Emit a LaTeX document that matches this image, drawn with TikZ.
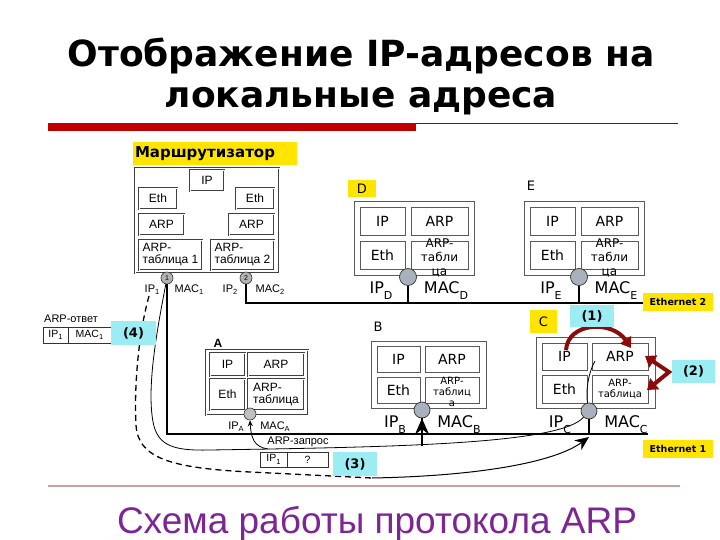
\documentclass[tikz,border=0pt]{standalone}
\usepackage{fontspec}
\setmainfont{DejaVu Sans}
\newfontfamily\scanfont{Liberation Sans}
\usetikzlibrary{arrows.meta}

\definecolor{tagyellow}{HTML}{FFE400}
\definecolor{tagcyan}{HTML}{9BEDF3}
\definecolor{arrowred}{HTML}{8C0A0A}
\definecolor{barred}{HTML}{C00000}
\definecolor{rulepink}{HTML}{C8A0A0}
\definecolor{portgray}{HTML}{A9B1BC}
\definecolor{footviolet}{HTML}{7E2594}

\newcommand{\hostsub}[1]{\raisebox{-6pt}{\fontsize{11}{11}\selectfont #1}}
\newcommand{\scansub}[1]{\raisebox{-2.5pt}{\fontsize{7.5}{7.5}\selectfont #1}}

\begin{document}
\begin{tikzpicture}[x=1pt,y=-1pt,
        cell/.style={draw=gray!70!black, line width=0.9pt, inner sep=0pt, font=\fontsize{14}{14}\selectfont},
        hostframe/.style={draw=gray!70!black, line width=0.9pt},
        scan/.style={draw=black!75, line width=0.4pt, double=white, double distance=0.8pt},
        scancell/.style={scan, inner sep=0pt, font=\scanfont\fontsize{12}{12}\selectfont},
        msgcell/.style={draw=black!80, line width=0.9pt, inner sep=0pt, font=\scanfont\fontsize{10.5}{10.5}\selectfont},
        port/.style={circle, draw=gray!40!black, fill=portgray, line width=0.7pt, inner sep=0pt, minimum size=17pt},
        rport/.style={circle, draw=black!80, fill=gray!60, line width=0.6pt, inner sep=0pt, minimum size=12pt, font=\scanfont\fontsize{7}{7}\selectfont},
        addr/.style={anchor=base, inner sep=0pt, font=\fontsize{16}{16}\selectfont},
        scanaddr/.style={anchor=base, inner sep=0pt, font=\scanfont\fontsize{11}{11}\selectfont},
        tag/.style={fill=tagyellow, inner sep=0pt},
        stepno/.style={fill=tagcyan, inner sep=0pt, font=\bfseries\fontsize{13}{13}\selectfont},
        bus/.style={line width=2.2pt},
        drop/.style={line width=2pt},
        msgline/.style={line width=0.8pt},
        redarrow/.style={draw=arrowred, line width=4pt, -{Triangle[length=10pt,width=13pt]}}]
        \useasboundingbox (0,0) rectangle (720,540);

        \node[anchor=base, inner sep=0pt, font=\bfseries\fontsize{36}{36}\selectfont] (title1) at (361,67) {Отображение IP-адресов на};
        \node[anchor=base, inner sep=0pt, font=\bfseries\fontsize{36}{36}\selectfont] (title2) at (361,108) {локальные адреса};
        \fill[barred] (48,123) rectangle (416,131);
        \draw[barred!80!black, line width=0.8pt] (416,123.5) -- (678,123.5);
        \draw[rulepink, line width=1.2pt] (48,486) -- (680,486);
        \node[anchor=base, inner sep=0pt, text=footviolet, font=\scanfont\fontsize{37}{37}\selectfont] (footer) at (377,533) {Схема работы протокола ARP};

        \coordinate (eth2end) at (643,303);
        \coordinate (eth1end) at (648,434);

        \node[tag, text width=160pt, minimum height=23pt, align=left, inner xsep=2pt, font=\bfseries\fontsize{15}{15}\selectfont] (routertag) at (215,153.5) {Маршрутизатор};
        \draw[scan] (135,168) rectangle (279,273);
        \node[scancell, minimum width=34, minimum height=21] (rip) at (207,180.5) {IP};
        \node[scancell, minimum width=38, minimum height=21] (reth1) at (158,198.5) {Eth};
        \node[scancell, minimum width=38, minimum height=21] (reth2) at (255,198.5) {Eth};
        \node[scancell, minimum width=45, minimum height=21] (rarp1) at (161.5,224.5) {ARP};
        \node[scancell, minimum width=45, minimum height=21] (rarp2) at (251.5,224.5) {ARP};
        \node[scancell, minimum width=63, minimum height=30, align=left] (rtab1) at (170.5,255) {ARP-\\таблица 1};
        \node[scancell, minimum width=63, minimum height=30, align=left] (rtab2) at (242.5,255) {ARP-\\таблица 2};
        \node[rport] (rport1) at (167,278) {1};
        \node[rport] (rport2) at (246,278) {2};
        \draw[bus] (rport1.south) |- (eth1end);
        \draw[bus] (rport2.south) |- (eth2end);
        \node[scanaddr] (rip1) at (152,292) {IP\scansub{1}};
        \node[scanaddr] (rmac1) at (189,292) {MAC\scansub{1}};
        \node[scanaddr] (rip2) at (230,292) {IP\scansub{2}};
        \node[scanaddr] (rmac2) at (270,292) {MAC\scansub{2}};

        \node[tag, minimum width=28, minimum height=17, font=\fontsize{13}{13}\selectfont] (dtag) at (362,188.5) {D};
        \draw[hostframe] (354,201) rectangle (474,275);
        \node[cell, minimum width=45, minimum height=28] (dip) at (382.5,221) {IP};
        \node[cell, minimum width=57, minimum height=28] (darp) at (439.5,221) {ARP};
        \node[cell, minimum width=45, minimum height=28] (deth) at (382.5,255) {Eth};
        \node[cell, minimum width=57, minimum height=28] (dtab) at (439.5,255) {};
        \node[align=center, inner sep=0pt, font=\fontsize{12}{14}\selectfont] (dtabtext) at (439.5,258) {ARP-\\табли\\ца};
        \node[port] (dport) at (408,277) {};
        \draw[drop] (dport.south) -- (dport.south |- eth2end);
        \node[addr] (dipaddr) at (381,293) {IP\hostsub{D}};
        \node[addr] (dmacaddr) at (446,293) {MAC\hostsub{D}};

        \node[inner sep=0pt, font=\fontsize{13}{13}\selectfont] (etag) at (531,186) {E};
        \draw[hostframe] (524,201) rectangle (644,275);
        \node[cell, minimum width=45, minimum height=28] (eip) at (552.5,221) {IP};
        \node[cell, minimum width=57, minimum height=28] (earp) at (609.5,221) {ARP};
        \node[cell, minimum width=45, minimum height=28] (eeth) at (552.5,255) {Eth};
        \node[cell, minimum width=57, minimum height=28] (etab) at (609.5,255) {};
        \node[align=center, inner sep=0pt, font=\fontsize{12}{14}\selectfont] (etabtext) at (609.5,258) {ARP-\\табли\\ца};
        \node[port] (eport) at (579,277) {};
        \draw[drop] (eport.south) -- (eport.south |- eth2end);
        \node[addr] (eipaddr) at (551,293) {IP\hostsub{E}};
        \node[addr] (emacaddr) at (616,293) {MAC\hostsub{E}};

        \node[inner sep=0pt, font=\fontsize{13}{13}\selectfont] (btag) at (378,327) {B};
        \draw[hostframe] (371,341) rectangle (486,408);
        \node[cell, minimum width=43, minimum height=26] (bip) at (398.5,359) {IP};
        \node[cell, minimum width=54, minimum height=26] (barp) at (452,359) {ARP};
        \node[cell, minimum width=43, minimum height=26] (beth) at (398.5,390) {Eth};
        \node[cell, minimum width=54, minimum height=26] (btab) at (452,390) {};
        \node[align=center, inner sep=0pt, font=\fontsize{10}{11}\selectfont] (btabtext) at (452,392) {ARP-\\таблиц\\а};
        \node[port, minimum size=16pt] (bport) at (422,410) {};
        \draw[drop] (bport.south) -- (bport.south |- eth1end);
        \node[addr] (bipaddr) at (395,427) {IP\hostsub{B}};
        \node[addr] (bmacaddr) at (459,427) {MAC\hostsub{B}};

        \node[tag, minimum width=27, minimum height=23, font=\fontsize{13}{13}\selectfont] (ctag) at (543.5,321.5) {C};
        \draw[hostframe] (536,337) rectangle (655,408);
        \node[cell, minimum width=45, minimum height=27] (cip) at (564.5,356.5) {IP};
        \node[cell, minimum width=56, minimum height=27] (carp) at (620,356.5) {ARP};
        \node[cell, minimum width=45, minimum height=28] (ceth) at (564.5,389) {Eth};
        \node[cell, minimum width=56, minimum height=28, align=center, font=\fontsize{10}{11}\selectfont] (ctab) at (620,389) {ARP-\\таблица};
        \node[port, minimum size=16pt] (cport) at (589,411) {};
        \draw[drop] (cport.south) -- (cport.south |- eth1end);
        \node[addr] (cipaddr) at (560,427) {IP\hostsub{C}};
        \node[addr] (cmacaddr) at (626,427) {MAC\hostsub{C}};

        \node[inner sep=0pt, font=\scanfont\bfseries\fontsize{12}{12}\selectfont] (atag) at (218,343) {A};
        \draw[scan] (206,350) rectangle (308,415);
        \node[scancell, minimum width=35, minimum height=23] (aip) at (227.5,364.5) {IP};
        \node[scancell, minimum width=56, minimum height=23] (aarp) at (276,364.5) {ARP};
        \node[scancell, minimum width=35, minimum height=31] (aeth) at (227.5,394.5) {Eth};
        \node[scancell, minimum width=56, minimum height=31, align=left] (atab) at (276,394.5) {ARP-\\таблица};
        \node[rport, fill=gray!50, minimum size=12pt] (aport) at (250,414) {};
        \node[scanaddr] (aipaddr) at (236,429) {IP\scansub{A}};
        \node[scanaddr] (amacaddr) at (275,429) {MAC\scansub{A}};

        \coordinate (abranch) at (268,449);
        \coordinate (carpin) at (595,361);
        \coordinate (replystart) at (149,296);
        \coordinate (replyturn) at (372,478);
        \coordinate (ctap) at (589,437);
        \coordinate (bfoot) at (422,446);
        \coordinate (redstart) at (566,350);
        \coordinate (redend) at (631,348);
        \coordinate (zigtop) at (645,356);
        \coordinate (zigmid) at (669,372);
        \coordinate (zigbot) at (647,390);

        \draw[msgline] (rport1) .. controls (157,330) and (148,380) .. (152,415) .. controls (155,445) and (170,451) .. (210,450) .. controls (400,447) and (560,444) .. (cport);
        \draw[msgline] (cport) .. controls (586,395) and (587,375) .. (carpin);
        \draw[msgline, -{Stealth[length=6pt,width=5pt]}] (abranch) .. controls (254,447) and (251,438) .. (aport.south);
        \draw[line width=1.3pt, dash pattern=on 6pt off 4pt] (replystart) .. controls (138,335) and (134,390) .. (136,425) .. controls (138,458) and (170,468) .. (250,472) -- (replyturn);
        \draw[line width=1pt, -{Stealth[length=14pt,width=12pt]}] (replyturn) .. controls (480,476) and (555,462) .. (ctap);
        \draw[line width=2.5pt, -{Stealth[length=16pt,width=14pt]}] (bfoot) -- (bport.south);
        \draw[redarrow] (redstart) .. controls (568,322) and (612,320) .. (redend);
        \draw[redarrow, line join=miter, {Triangle[length=10pt,width=14pt]}-{Triangle[length=10pt,width=14pt]}] (zigtop) -- (zigmid) -- (zigbot);

        \node[scanaddr, anchor=base west] (replylabel) at (44,322) {ARP-ответ};
        \node[msgcell, minimum width=25, minimum height=16] (replyip) at (55.5,335) {IP\scansub{1}};
        \node[msgcell, minimum width=43, minimum height=16] (replymac) at (89.5,335) {MAC\scansub{1}};
        \node[scanaddr] (requestlabel) at (298,444) {ARP-запрос};
        \node[msgcell, minimum width=27, minimum height=15] (requestip) at (273.5,459.5) {IP\scansub{1}};
        \node[msgcell, minimum width=41, minimum height=15] (requestq) at (307.5,459.5) {?};

        \node[tag, minimum width=70, minimum height=18, font=\bfseries\fontsize{9.5}{9.5}\selectfont] (eth2tag) at (678,302) {Ethernet 2};
        \node[tag, minimum width=70, minimum height=18, font=\bfseries\fontsize{9.5}{9.5}\selectfont] (eth1tag) at (678,449) {Ethernet 1};
        \node[stepno, minimum width=44, minimum height=22] (step1) at (592,316) {(1)};
        \node[stepno, minimum width=43, minimum height=23] (step2) at (693.5,371.5) {(2)};
        \node[stepno, minimum width=44, minimum height=24] (step3) at (355,464) {(3)};
        \node[stepno, minimum width=45, minimum height=24] (step4) at (133.5,333) {(4)};
\end{tikzpicture}
\end{document}
